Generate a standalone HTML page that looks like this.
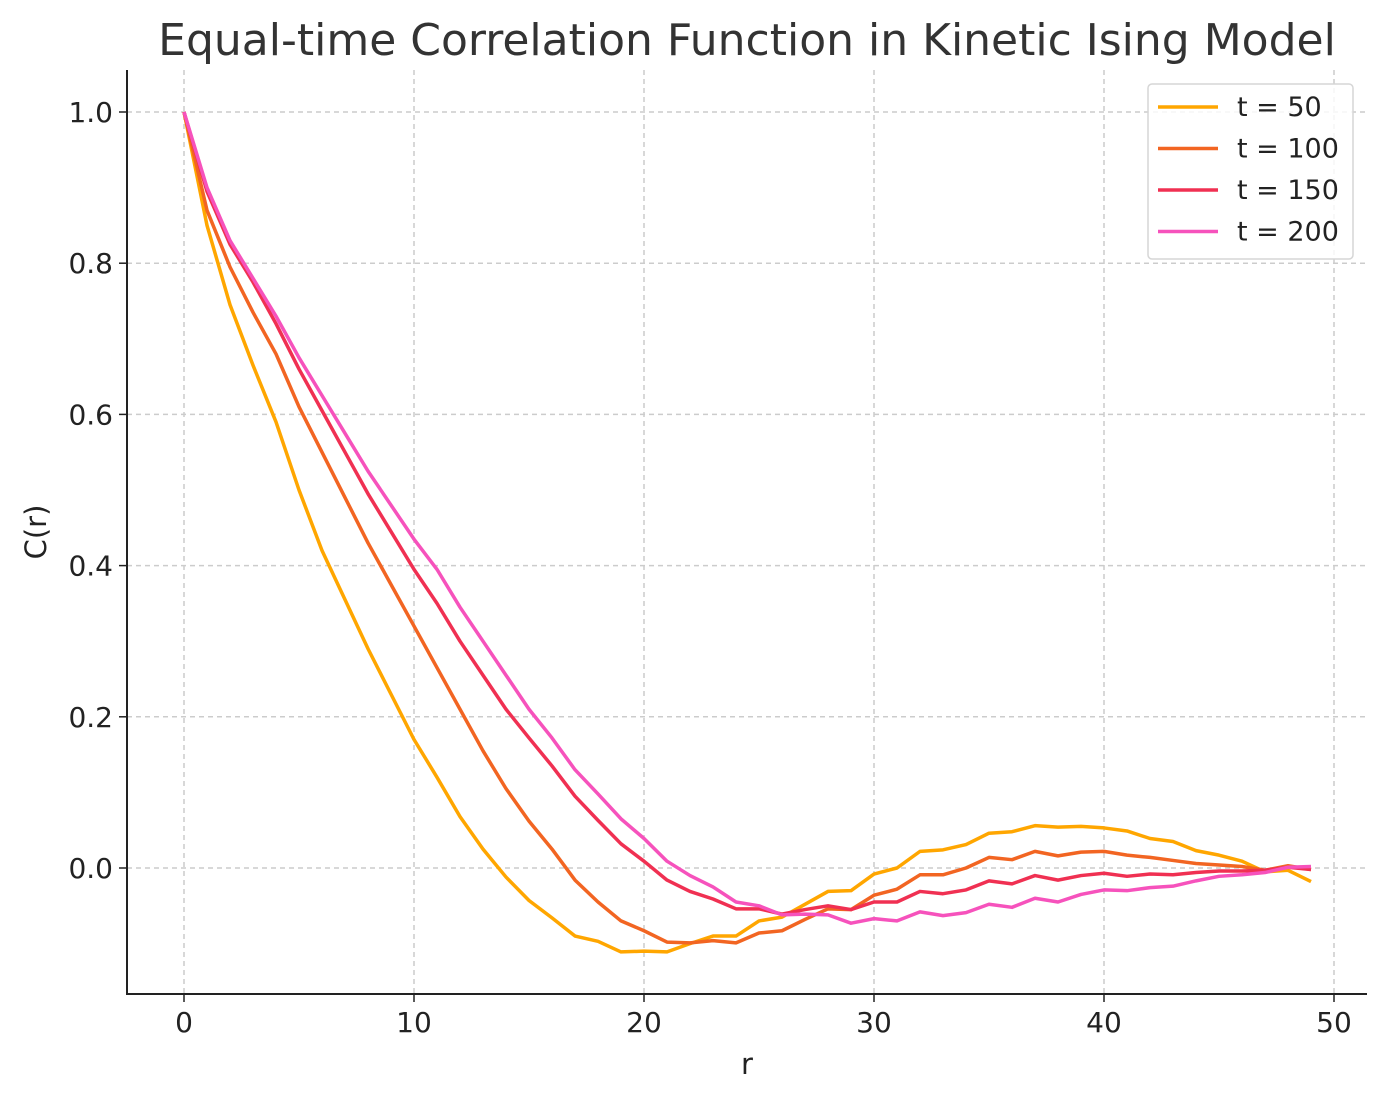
<!DOCTYPE html>
<html><head><meta charset="utf-8"><style>
body{margin:0;background:#fff;}
svg{display:block;font-family:"DejaVu Sans","Liberation Sans",sans-serif;}
</style></head><body>
<svg id="chart" width="1387" height="1101"></svg>
<script>
const rValues = Array.from({length:50},(_, i)=>i);
const seriesNames = ["t = 50","t = 100","t = 150","t = 200"];
const seriesColors = ["#ffa600","#f26522","#f03052","#f652bc"];
const t50 = [1.0,0.85,0.745,0.665,0.59,0.50,0.42,0.355,0.29,0.23,0.17,0.12,0.068,0.025,-0.012,-0.043,-0.066,-0.09,-0.097,-0.111,-0.11,-0.111,-0.10,-0.09,-0.09,-0.07,-0.065,-0.048,-0.031,-0.03,-0.008,0.0,0.022,0.024,0.031,0.046,0.048,0.056,0.054,0.055,0.053,0.049,0.039,0.035,0.023,0.017,0.009,-0.005,-0.003,-0.018];
const t100 = [1.0,0.87,0.795,0.735,0.68,0.61,0.55,0.49,0.43,0.375,0.32,0.265,0.21,0.155,0.105,0.062,0.025,-0.016,-0.045,-0.07,-0.083,-0.098,-0.099,-0.096,-0.099,-0.086,-0.083,-0.068,-0.054,-0.055,-0.036,-0.028,-0.009,-0.009,0.0,0.014,0.011,0.022,0.016,0.021,0.022,0.017,0.014,0.01,0.006,0.004,0.002,-0.003,0.003,-0.002];
const t150 = [1.0,0.895,0.825,0.775,0.72,0.66,0.605,0.55,0.495,0.445,0.395,0.35,0.3,0.255,0.21,0.172,0.135,0.095,0.063,0.032,0.009,-0.016,-0.031,-0.041,-0.054,-0.054,-0.061,-0.055,-0.05,-0.055,-0.045,-0.045,-0.031,-0.034,-0.029,-0.017,-0.021,-0.01,-0.016,-0.01,-0.007,-0.011,-0.008,-0.009,-0.006,-0.004,-0.004,-0.003,0.001,-0.002];
const t200 = [1.0,0.9,0.83,0.78,0.73,0.675,0.625,0.575,0.525,0.48,0.435,0.395,0.345,0.3,0.255,0.21,0.172,0.13,0.098,0.065,0.039,0.009,-0.01,-0.025,-0.045,-0.05,-0.062,-0.061,-0.062,-0.073,-0.067,-0.07,-0.058,-0.063,-0.059,-0.048,-0.052,-0.04,-0.045,-0.035,-0.029,-0.03,-0.026,-0.024,-0.017,-0.011,-0.009,-0.006,0.001,0.002];
const xTicks = [0,10,20,30,40,50];
const yTicks = [0.0,0.2,0.4,0.6,0.8,1.0];

const NS="http://www.w3.org/2000/svg";
const svg=document.getElementById('chart');
const L=127,R=1367,T=70,B=994;
const X=v=>184+v*23;
const Y=v=>868-v*756;
function mk(tag,attrs,parent){const e=document.createElementNS(NS,tag);for(const k in attrs)e.setAttribute(k,attrs[k]);(parent||svg).appendChild(e);return e;}

const grid=mk('g',{});


xTicks.forEach(t=>{
  const l=mk('line',{x1:X(t),x2:X(t),y1:T,y2:B,stroke:'#cccccc','stroke-width':1.5,'stroke-dasharray':'5,4'},grid);
  
  
  const tk=mk('line',{x1:X(t),x2:X(t),y1:B,y2:B+8,stroke:'#222','stroke-width':1.5});
  
  
  const tx=mk('text',{x:X(t),y:B+38,'text-anchor':'middle','font-size':28,fill:'#222'});
  tx.textContent=t;
  
  
});
yTicks.forEach(t=>{
  const l=mk('line',{x1:L,x2:R,y1:Y(t),y2:Y(t),stroke:'#cccccc','stroke-width':1.5,'stroke-dasharray':'5,4'},grid);
  
  
  const tk=mk('line',{x1:L-8,x2:L,y1:Y(t),y2:Y(t),stroke:'#222','stroke-width':1.5});
  
  
  const tx=mk('text',{x:L-14,y:Y(t)+10,'text-anchor':'end','font-size':28,fill:'#222'});
  tx.textContent=t.toFixed(1);
  
  
});

const allSeries=[t50,t100,t150,t200];
allSeries.forEach((s,i)=>{
  const p=mk('polyline',{points:s.map((v,j)=>X(rValues[j])+','+Y(v)).join(' '),fill:'none',stroke:seriesColors[i],'stroke-width':3.5,'stroke-linejoin':'round'});
  
  
});

const ax=mk('path',{d:`M${L},${T} L${L},${B} L${R},${B}`,fill:'none',stroke:'#222','stroke-width':2});



const title=mk('text',{x:747,y:55,'text-anchor':'middle','font-size':44,fill:'#333'});
title.textContent='Equal-time Correlation Function in Kinetic Ising Model';


const xl=mk('text',{x:747,y:1074,'text-anchor':'middle','font-size':29,fill:'#222'});
xl.textContent='r';


const yl=mk('text',{x:46,y:532,'text-anchor':'middle','font-size':29,fill:'#222',transform:'rotate(-90 46 532)'});
yl.textContent='C(r)';



const lg=mk('g',{});


mk('rect',{x:1148,y:84,width:205,height:175,rx:4,fill:'#fff','fill-opacity':0.8,stroke:'#d6d6d6','stroke-width':1.5},lg);
seriesNames.forEach((n,i)=>{
  const y=107+i*41.5;
  const ln=mk('line',{x1:1158,x2:1218,y1:y,y2:y,stroke:seriesColors[i],'stroke-width':3.5},lg);
  
  
  const tx=mk('text',{x:1237,y:y+9,'font-size':27,fill:'#222'},lg);
  tx.textContent=n;
  
  
});
</script>
</body></html>
